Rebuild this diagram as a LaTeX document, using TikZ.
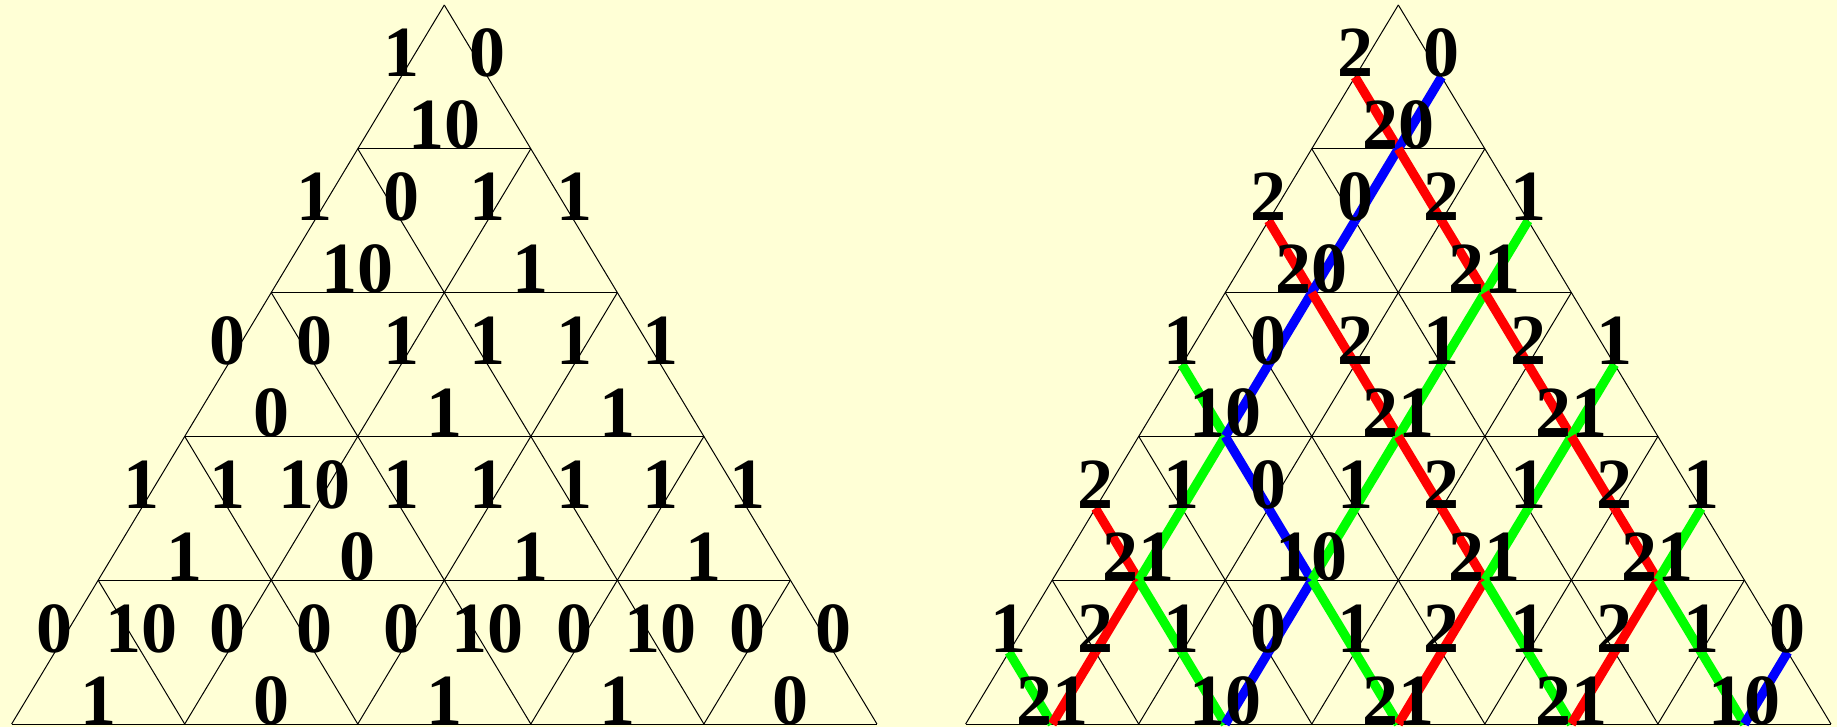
\documentclass[tikz,border=0pt]{standalone}
\usepackage{fontspec}
\setmainfont{Liberation Serif}
\definecolor{bg}{RGB}{255,255,214}
\definecolor{c0}{RGB}{0,0,255}
\definecolor{c1}{RGB}{0,255,0}
\definecolor{c2}{RGB}{255,0,0}
\tikzset{
  gridline/.style={line width=0.5pt, draw=black},
  ribbon/.style={line width=4.6pt},
  lab/.style={anchor=base, inner sep=0pt, font=\fontsize{36}{36}\selectfont\bfseries},
}
\def\A{86.53}
\def\H{143.8}
\def\Y{5}
% coordinates of edge midpoints: #1 prefix, #2 apex x, #3 rows (macro)
\newcommand\mkcoords[3]{%
  \foreach \r/\sl/\bl in #3 {
    \foreach \s [count=\k from 0] in \sl {
      \coordinate (#1s-\r-\k) at ({#2+(\k-\r+0.5)*\A},{\Y+(\r-0.5)*\H});
    }
    \foreach \b [count=\j from 0] in \bl {
      \coordinate (#1b-\r-\j) at ({#2+(2*\j-\r+1)*\A},{\Y+\r*\H});
    }
  }
}
\newcommand\mklabels[2]{%
  \foreach \r/\sl/\bl in #2 {
    \foreach \s [count=\k from 0] in \sl {
      \node[lab] (#1t-\r-\k) at (#1s-\r-\k) {\s};
    }
    \foreach \b [count=\j from 0] in \bl {
      \node[lab] (#1u-\r-\j) at (#1b-\r-\j) {\b};
    }
  }
}
\def\leftrows{1/{1,0}/{10}, 2/{1,0,1,1}/{10,1}, 3/{0,0,1,1,1,1}/{0,1,1}, 4/{1,1,10,1,1,1,1,1}/{1,0,1,1}, 5/{0,10,0,0,0,10,0,10,0,0}/{1,0,1,1,0}}
\def\rightrows{1/{2,0}/{20}, 2/{2,0,2,1}/{20,21}, 3/{1,0,2,1,2,1}/{10,21,21}, 4/{2,1,0,1,2,1,2,1}/{21,10,21,21}, 5/{1,2,1,0,1,2,1,2,1,0}/{21,10,21,21,10}}
\begin{document}
\begin{tikzpicture}[x=0.5pt,y=-0.5pt]
\fill[bg] (0,0) rectangle (1837,727);
\useasboundingbox (0,0) rectangle (1837,727);
% triangular grids
\foreach \X in {444.3,1398.3} {
  \foreach \i in {1,...,5} {
    \draw[gridline] ({\X-\i*\A},{\Y+\i*\H}) -- ({\X+\i*\A},{\Y+\i*\H});
  }
  \foreach \i in {0,...,4} {
    \draw[gridline] ({\X+\i*\A},{\Y+\i*\H}) -- ({\X+(2*\i-5)*\A},{\Y+5*\H});
    \draw[gridline] ({\X-\i*\A},{\Y+\i*\H}) -- ({\X+(5-2*\i)*\A},{\Y+5*\H});
  }
}
\mkcoords{L}{444.3}{\leftrows}
\mkcoords{R}{1398.3}{\rightrows}
% coloured ribbons on the right triangle
\foreach \r/\sl in {1/{2,0}, 2/{2,0,2,1}, 3/{1,0,2,1,2,1}, 4/{2,1,0,1,2,1,2,1}, 5/{1,2,1,0,1,2,1,2,1,0}} {
  \foreach \s [count=\k from 0] in \sl {
    \pgfmathtruncatemacro\ju{int(\k/2)}
    \draw[ribbon, color=c\s] (Rs-\r-\k) -- (Rb-\r-\ju);
    \pgfmathtruncatemacro\inn{and(\k>0,\k<2*\r-1)}
    \ifnum\inn=1
      \pgfmathtruncatemacro\jd{int((\k-1)/2)}
      \pgfmathtruncatemacro\rp{\r-1}
      \draw[ribbon, color=c\s] (Rb-\rp-\jd) -- (Rs-\r-\k);
    \fi
  }
}
\mklabels{L}{\leftrows}
\mklabels{R}{\rightrows}
\end{tikzpicture}
\end{document}
